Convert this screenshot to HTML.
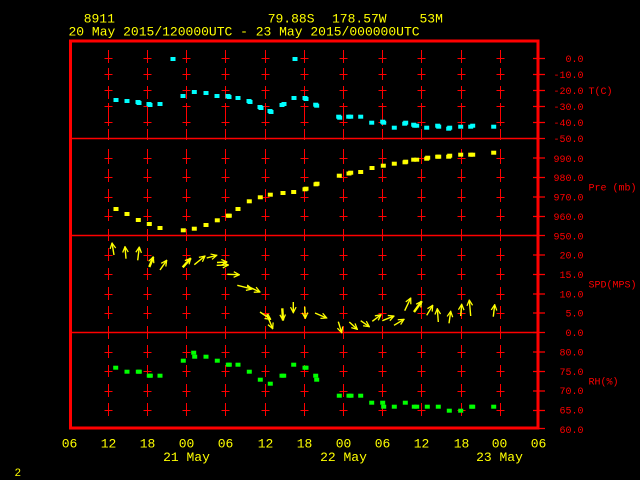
<!DOCTYPE html>
<html><head><meta charset="utf-8"><style>
html,body{margin:0;padding:0;background:#000;width:640px;height:480px;overflow:hidden}
svg{display:block}
</style></head><body>
<svg width="640" height="480" viewBox="0 0 640 480" xmlns="http://www.w3.org/2000/svg" xmlns:xlink="http://www.w3.org/1999/xlink">
<defs>
<marker id="ah" viewBox="0 0 10 10" refX="9" refY="5" markerWidth="7" markerHeight="7" markerUnits="userSpaceOnUse" orient="auto">
<path d="M1,1 L9,5 L1,9" fill="none" stroke="#ffff00" stroke-width="1.8"/>
</marker>
<g id="col">
<path fill="none" stroke="#ff0000" stroke-width="1" shape-rendering="crispEdges" d="M-4 58.5H4M0 50V63 M-4 74.5H4M0 68V80 M-4 90.5H4M0 86V99 M-4 106.5H4M0 103V126 M-4 122.5H4 M0 129V140 M-4 158.5H4M0 149V164 M-4 177.5H4M0 169V182 M-4 197.5H4M0 189V202 M-4 216.5H4M0 209V221 M0 229V241 M-4 255.5H4M0 248V261 M-4 274.5H4M0 268V280 M-4 294.5H4M0 287V300 M-4 313.5H4M0 306V319 M0 326V339 M-4 352.5H4M0 345V358 M-4 371.5H4M0 365V377 M-4 391.5H4M0 384V397 M-4 410.5H4M0 403V416"/>
</g>
</defs>
<rect width="640" height="480" fill="#000"/>
<g font-family="Liberation Mono, DejaVu Sans Mono, monospace" font-size="13" fill="#ffff00">
<text x="83.7" y="22.7">8911</text>
<text x="267.7" y="22.7">79.88S</text>
<text x="332" y="22.7">178.57W</text>
<text x="419.5" y="22.7">53M</text>
<text x="68.5" y="35.7">20 May 2015/120000UTC - 23 May 2015/000000UTC</text>
</g>
<use xlink:href="#col" href="#col" x="108.5"/>
<use xlink:href="#col" href="#col" x="147.5"/>
<use xlink:href="#col" href="#col" x="186.5"/>
<use xlink:href="#col" href="#col" x="225.5"/>
<use xlink:href="#col" href="#col" x="265.5"/>
<use xlink:href="#col" href="#col" x="304.5"/>
<use xlink:href="#col" href="#col" x="343.5"/>
<use xlink:href="#col" href="#col" x="382.5"/>
<use xlink:href="#col" href="#col" x="421.5"/>
<use xlink:href="#col" href="#col" x="461.5"/>
<use xlink:href="#col" href="#col" x="500.5"/>
<g stroke="#ff0000" stroke-width="1.5">
<line x1="70" y1="138.5" x2="538" y2="138.5"/>
<line x1="70" y1="235.5" x2="538" y2="235.5"/>
<line x1="70" y1="332.5" x2="538" y2="332.5"/>
</g>
<path fill="none" stroke="#ff0000" stroke-width="1.2" d="M533 58.5H545M533 74.5H545M533 90.5H545M533 106.5H545M533 122.5H545M533 138.5H545 M533 158H545M533 177.5H545M533 197H545M533 216.5H545M533 235.5H545 M533 255H545M533 274.5H545M533 294H545M533 313H545M533 332.5H545 M533 352H545M533 371.5H545M533 391H545M533 410.5H545M533 428.5H545"/>
<rect x="70.5" y="41" width="467.5" height="387" fill="none" stroke="#ff0000" stroke-width="3"/>
<g font-family="Liberation Mono, DejaVu Sans Mono, monospace" font-size="10" fill="#ff0000" text-anchor="end">
<text x="583.5" y="62">0.0</text>
<text x="583.5" y="78">-10.0</text>
<text x="583.5" y="94">-20.0</text>
<text x="583.5" y="110">-30.0</text>
<text x="583.5" y="126">-40.0</text>
<text x="583.5" y="142">-50.0</text>
<text x="583.5" y="161.8">990.0</text>
<text x="583.5" y="181.2">980.0</text>
<text x="583.5" y="200.6">970.0</text>
<text x="583.5" y="220">960.0</text>
<text x="583.5" y="239.4">950.0</text>
<text x="583.5" y="258.7">20.0</text>
<text x="583.5" y="278">15.0</text>
<text x="583.5" y="297.4">10.0</text>
<text x="583.5" y="316.7">5.0</text>
<text x="583.5" y="336">0.0</text>
<text x="583.5" y="355.4">80.0</text>
<text x="583.5" y="374.8">75.0</text>
<text x="583.5" y="394.2">70.0</text>
<text x="583.5" y="413.6">65.0</text>
<text x="583.5" y="433">60.0</text>
</g>
<g font-family="Liberation Mono, DejaVu Sans Mono, monospace" font-size="10" fill="#ff0000">
<text x="588.5" y="94">T(C)</text>
<text x="588.5" y="190.3">Pre (mb)</text>
<text x="588.5" y="287.4">SPD(MPS)</text>
<text x="588.5" y="384.3">RH(%)</text>
</g>
<g font-family="Liberation Mono, DejaVu Sans Mono, monospace" font-size="13" fill="#ffff00" text-anchor="middle">
<text x="69.5" y="447.5">06</text>
<text x="108.5" y="447.5">12</text>
<text x="147.5" y="447.5">18</text>
<text x="186.5" y="447.5">00</text>
<text x="225.5" y="447.5">06</text>
<text x="265.5" y="447.5">12</text>
<text x="304.5" y="447.5">18</text>
<text x="343.5" y="447.5">00</text>
<text x="382.5" y="447.5">06</text>
<text x="421.5" y="447.5">12</text>
<text x="461.5" y="447.5">18</text>
<text x="499.5" y="447.5">00</text>
<text x="538.5" y="447.5">06</text>
<text x="186.5" y="461">21 May</text>
<text x="343.5" y="461">22 May</text>
<text x="499.5" y="461">23 May</text>
</g>
<text x="14.5" y="476" font-family="Liberation Mono, DejaVu Sans Mono, monospace" font-size="11" fill="#ffff00">2</text>
<g fill="#00ffff">
<rect x="113.5" y="98" width="5" height="4"/>
<rect x="124.5" y="99" width="5" height="4"/>
<rect x="135.5" y="100" width="5" height="4"/>
<rect x="136.5" y="101" width="5" height="4"/>
<rect x="146.5" y="102" width="5" height="4"/>
<rect x="147.5" y="103" width="5" height="4"/>
<rect x="157.5" y="102" width="5" height="4"/>
<rect x="170.5" y="57" width="5" height="4"/>
<rect x="180.5" y="94" width="5" height="4"/>
<rect x="191.8" y="90" width="5" height="4"/>
<rect x="203.5" y="91" width="5" height="4"/>
<rect x="214.5" y="94" width="5" height="4"/>
<rect x="225.5" y="94" width="5" height="4"/>
<rect x="226.5" y="95" width="5" height="4"/>
<rect x="235.5" y="96" width="5" height="4"/>
<rect x="246.5" y="99" width="5" height="4"/>
<rect x="247.5" y="100" width="5" height="4"/>
<rect x="257.5" y="105" width="5" height="4"/>
<rect x="258.5" y="106" width="5" height="4"/>
<rect x="267.5" y="109" width="5" height="4"/>
<rect x="268.5" y="110" width="5" height="4"/>
<rect x="279.5" y="103" width="5" height="4"/>
<rect x="281.5" y="102" width="5" height="4"/>
<rect x="291.5" y="96" width="5" height="4"/>
<rect x="292.5" y="57" width="5" height="4"/>
<rect x="302.5" y="96" width="5" height="4"/>
<rect x="303.5" y="97" width="5" height="4"/>
<rect x="313.2" y="102.7" width="5" height="4"/>
<rect x="314.2" y="103.7" width="5" height="4"/>
<rect x="336.2" y="114.7" width="5" height="4"/>
<rect x="337.2" y="115.7" width="5" height="4"/>
<rect x="346.2" y="114.7" width="5" height="4"/>
<rect x="348.2" y="114.7" width="5" height="4"/>
<rect x="358.2" y="114.7" width="5" height="4"/>
<rect x="369.2" y="120.7" width="5" height="4"/>
<rect x="380.2" y="119.7" width="5" height="4"/>
<rect x="381.2" y="120.7" width="5" height="4"/>
<rect x="391.8" y="125.7" width="5" height="4"/>
<rect x="402.2" y="121.7" width="5" height="4"/>
<rect x="403.2" y="120.7" width="5" height="4"/>
<rect x="411.2" y="122.7" width="5" height="4"/>
<rect x="412.2" y="123.7" width="5" height="4"/>
<rect x="414.2" y="123.7" width="5" height="4"/>
<rect x="424.2" y="125.7" width="5" height="4"/>
<rect x="435.2" y="123.7" width="5" height="4"/>
<rect x="436.2" y="124.7" width="5" height="4"/>
<rect x="446.2" y="126.7" width="5" height="4"/>
<rect x="447.2" y="125.7" width="5" height="4"/>
<rect x="458.2" y="124.7" width="5" height="4"/>
<rect x="468.2" y="124.7" width="5" height="4"/>
<rect x="470.2" y="123.7" width="5" height="4"/>
<rect x="491.2" y="124.7" width="5" height="4"/>
</g>
<g fill="#ffff00">
<rect x="113.5" y="207" width="5" height="4"/>
<rect x="124.5" y="212" width="5" height="4"/>
<rect x="135.8" y="218" width="5" height="4"/>
<rect x="146.8" y="222" width="5" height="4"/>
<rect x="157.5" y="226" width="5" height="4"/>
<rect x="180.8" y="228.3" width="5" height="4"/>
<rect x="191.8" y="226.7" width="5" height="4"/>
<rect x="203.5" y="223" width="5" height="4"/>
<rect x="214.8" y="218.3" width="5" height="4"/>
<rect x="225.8" y="213.7" width="5" height="4"/>
<rect x="226.8" y="213.7" width="5" height="4"/>
<rect x="235.5" y="207" width="5" height="4"/>
<rect x="246.8" y="199.3" width="5" height="4"/>
<rect x="257.8" y="195.3" width="5" height="4"/>
<rect x="267.8" y="192.7" width="5" height="4"/>
<rect x="280.5" y="191" width="5" height="4"/>
<rect x="291.2" y="190" width="5" height="4"/>
<rect x="302.5" y="187.3" width="5" height="4"/>
<rect x="303.5" y="186.7" width="5" height="4"/>
<rect x="313.5" y="182.3" width="5" height="4"/>
<rect x="314.5" y="181.7" width="5" height="4"/>
<rect x="336.8" y="173.7" width="5" height="4"/>
<rect x="346.5" y="171.5" width="5" height="4"/>
<rect x="348.2" y="170.7" width="5" height="4"/>
<rect x="358.2" y="170" width="5" height="4"/>
<rect x="369.5" y="166" width="5" height="4"/>
<rect x="380.8" y="163.7" width="5" height="4"/>
<rect x="391.8" y="161.7" width="5" height="4"/>
<rect x="402.5" y="160.3" width="5" height="4"/>
<rect x="403.2" y="159.7" width="5" height="4"/>
<rect x="411.2" y="157.7" width="5" height="4"/>
<rect x="414.2" y="157.7" width="5" height="4"/>
<rect x="424.2" y="156.7" width="5" height="4"/>
<rect x="425.2" y="155.7" width="5" height="4"/>
<rect x="435.2" y="154.7" width="5" height="4"/>
<rect x="436.2" y="154.7" width="5" height="4"/>
<rect x="446.2" y="154.7" width="5" height="4"/>
<rect x="447.2" y="153.7" width="5" height="4"/>
<rect x="458.2" y="152.7" width="5" height="4"/>
<rect x="468.2" y="152.7" width="5" height="4"/>
<rect x="470.2" y="152.7" width="5" height="4"/>
<rect x="491.2" y="150.7" width="5" height="4"/>
</g>
<g fill="#00ff00">
<rect x="113.2" y="365.7" width="5" height="4"/>
<rect x="124.5" y="369.7" width="5" height="4"/>
<rect x="135.8" y="369.7" width="5" height="4"/>
<rect x="136.8" y="369.7" width="5" height="4"/>
<rect x="146.8" y="373.7" width="5" height="4"/>
<rect x="147.8" y="373.7" width="5" height="4"/>
<rect x="157.5" y="373.7" width="5" height="4"/>
<rect x="180.8" y="358.7" width="5" height="4"/>
<rect x="191.2" y="350.7" width="5" height="4"/>
<rect x="192.2" y="354.7" width="5" height="4"/>
<rect x="203.5" y="354.7" width="5" height="4"/>
<rect x="214.8" y="358.7" width="5" height="4"/>
<rect x="225.8" y="362.7" width="5" height="4"/>
<rect x="226.8" y="362.7" width="5" height="4"/>
<rect x="235.5" y="362.7" width="5" height="4"/>
<rect x="246.8" y="369.7" width="5" height="4"/>
<rect x="257.8" y="377.7" width="5" height="4"/>
<rect x="267.8" y="381.7" width="5" height="4"/>
<rect x="279.5" y="373.7" width="5" height="4"/>
<rect x="281.2" y="373.7" width="5" height="4"/>
<rect x="291.2" y="362.7" width="5" height="4"/>
<rect x="302.5" y="365.7" width="5" height="4"/>
<rect x="303.5" y="365.7" width="5" height="4"/>
<rect x="313.2" y="373.7" width="5" height="4"/>
<rect x="314.2" y="377.7" width="5" height="4"/>
<rect x="336.8" y="393.7" width="5" height="4"/>
<rect x="346.5" y="393.7" width="5" height="4"/>
<rect x="348.5" y="393.7" width="5" height="4"/>
<rect x="358.2" y="393.7" width="5" height="4"/>
<rect x="369.2" y="400.7" width="5" height="4"/>
<rect x="380.2" y="400.7" width="5" height="4"/>
<rect x="381.2" y="404.7" width="5" height="4"/>
<rect x="391.8" y="404.7" width="5" height="4"/>
<rect x="402.8" y="400.7" width="5" height="4"/>
<rect x="411.8" y="404.7" width="5" height="4"/>
<rect x="414.2" y="404.7" width="5" height="4"/>
<rect x="424.8" y="404.7" width="5" height="4"/>
<rect x="435.8" y="404.7" width="5" height="4"/>
<rect x="446.8" y="408.7" width="5" height="4"/>
<rect x="458.2" y="408.7" width="5" height="4"/>
<rect x="469.2" y="404.7" width="5" height="4"/>
<rect x="470.2" y="404.7" width="5" height="4"/>
<rect x="491.2" y="404.7" width="5" height="4"/>
</g>
<g stroke="#ffff00" stroke-width="1.4" fill="none" marker-end="url(#ah)">
<line x1="114" y1="255" x2="112" y2="243"/>
<line x1="126" y1="258.7" x2="125" y2="246.7"/>
<line x1="137.7" y1="260.3" x2="139.3" y2="247"/>
<line x1="149.3" y1="267" x2="153.3" y2="257" stroke-width="2.4"/>
<line x1="160" y1="270" x2="166.7" y2="260.3"/>
<line x1="182.7" y1="267.3" x2="190.7" y2="258.3" stroke-width="2.4"/>
<line x1="194.3" y1="264.7" x2="205" y2="256"/>
<line x1="206.7" y1="258" x2="216.7" y2="255.3"/>
<line x1="216.7" y1="265.3" x2="228.3" y2="265"/>
<line x1="217" y1="262.5" x2="227" y2="262"/>
<line x1="227.3" y1="274.3" x2="239.3" y2="274.7"/>
<line x1="237.3" y1="285.3" x2="252" y2="289"/>
<line x1="247" y1="286" x2="260" y2="292"/>
<line x1="260" y1="312" x2="270.7" y2="319.3"/>
<line x1="266.7" y1="314.3" x2="272.7" y2="328.7"/>
<line x1="282.3" y1="308.3" x2="283" y2="320.3" stroke-width="2.4"/>
<line x1="293.3" y1="302" x2="293.3" y2="312.7"/>
<line x1="304.7" y1="306.7" x2="305.3" y2="318.3"/>
<line x1="315" y1="313" x2="326.7" y2="318"/>
<line x1="338.3" y1="321.7" x2="341.7" y2="332.7"/>
<line x1="349.3" y1="322" x2="357.3" y2="329.3"/>
<line x1="360.7" y1="320.7" x2="369.3" y2="326.7"/>
<line x1="372.3" y1="321.3" x2="381" y2="314.7"/>
<line x1="382.3" y1="320.7" x2="394" y2="316"/>
<line x1="394" y1="325.3" x2="404" y2="319.3"/>
<line x1="404.7" y1="310.7" x2="410.7" y2="298"/>
<line x1="414" y1="312" x2="421.7" y2="301.3" stroke-width="2.4"/>
<line x1="426.7" y1="315.3" x2="432.7" y2="305.3"/>
<line x1="438.3" y1="322" x2="437.3" y2="308.7"/>
<line x1="449" y1="323.3" x2="450.7" y2="311.3"/>
<line x1="460.7" y1="316" x2="461.7" y2="304.3"/>
<line x1="470.7" y1="316" x2="469.3" y2="300"/>
<line x1="493.3" y1="316.7" x2="494.7" y2="304.7"/>
</g>
</svg>
</body></html>
